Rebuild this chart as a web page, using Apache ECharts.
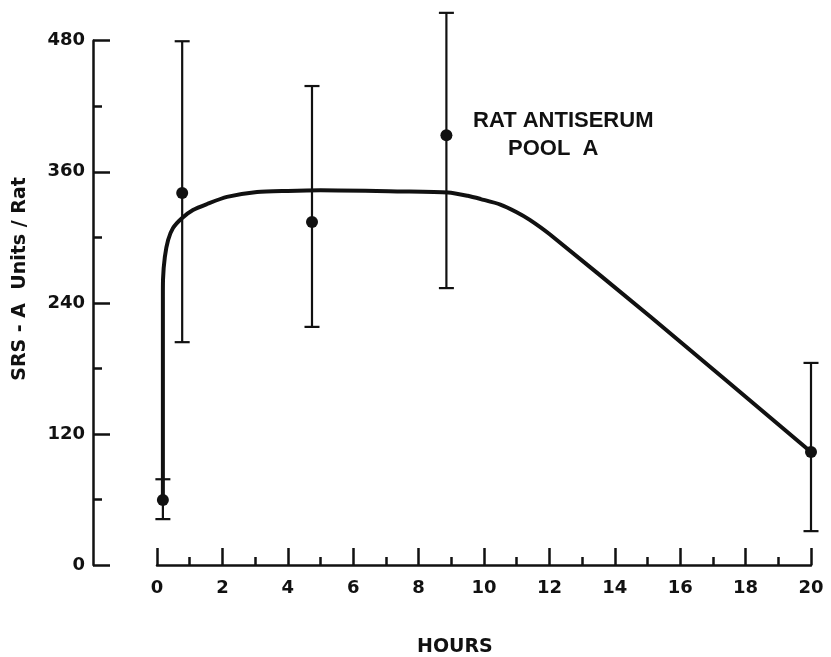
<!DOCTYPE html>
<html>
<head>
<meta charset="utf-8">
<title>SRS-A Units / Rat</title>
<script src="https://cdn.jsdelivr.net/npm/echarts@6/dist/echarts.min.js"></script>
<style>
    html, body { margin: 0; padding: 0; background: #fff; }
    #chart { width: 831px; height: 657px; }
</style>
</head>
<body>
<div id="chart"></div>
<script>
    // measured points (hours, mean, error bar ends)
    let hours = [0.18, 0.77, 4.74, 8.85, 20];
    let means = [59.5, 340.5, 314, 393.5, 103.5];
    let lows = [42, 204, 218, 253.5, 31];
    let highs = [78.5, 479.5, 438.5, 505.5, 185];

    // hand drawn curve
    let curveX = [0.18, 0.18, 0.185, 0.24, 0.34, 0.49, 0.76, 1.1, 1.53, 2.14, 3.06, 4.0, 5.0, 7.4, 8.9, 9.5, 9.9, 10.5, 11.0, 11.4, 12.0, 15.1, 20];
    let curveY = [59.5, 245, 262, 282, 297.5, 308.5, 317.5, 325, 330.5, 337, 341.5, 342.5, 343, 342, 341, 338, 335, 330, 323, 316, 303, 227, 103.5];

    let yTicks = [0, 120, 240, 360, 480];
    let xTicks = [0, 2, 4, 6, 8, 10, 12, 14, 16, 18, 20];

    let ink = '#111';
    let font = 'DejaVu Sans';

    let chart = echarts.init(document.getElementById('chart'));

    let curveData = curveX.map(function (x, i) { return [x, curveY[i]]; });
    let pointData = hours.map(function (x, i) { return [x, means[i]]; });
    let barData = hours.map(function (x, i) { return [x, lows[i], highs[i]]; });

    // error bar with caps
    function renderBar(params, api) {
        let x = api.value(0);
        let top = api.coord([x, api.value(2)]);
        let bot = api.coord([x, api.value(1)]);
        let w = 7.5;
        let st = { stroke: ink, lineWidth: 2.2 };
        return {
            type: 'group',
            children: [
                { type: 'line', shape: { x1: top[0], y1: top[1], x2: bot[0], y2: bot[1] }, style: st },
                { type: 'line', shape: { x1: top[0] - w, y1: top[1], x2: top[0] + w, y2: top[1] }, style: st },
                { type: 'line', shape: { x1: bot[0] - w, y1: bot[1], x2: bot[0] + w, y2: bot[1] }, style: st }
            ]
        };
    }

    let option = {
        backgroundColor: '#fff',
        animation: false,
        grid: { left: 157, right: 20, top: 40.7, bottom: 92 },
        xAxis: {
            type: 'value',
            min: 0,
            max: 20,
            interval: 2,
            splitLine: { show: false },
            axisLine: { show: true, onZero: false, lineStyle: { color: ink, width: 2.5 } },
            axisTick: { show: true, inside: true, length: 17, lineStyle: { color: ink, width: 2.5 } },
            minorTick: { show: true, splitNumber: 2, length: 8, lineStyle: { color: ink, width: 2.5 } },
            axisLabel: {
                margin: 14,
                color: ink,
                fontFamily: font,
                fontWeight: 'bold',
                fontSize: 18,
                formatter: function (v) { return xTicks.indexOf(v) >= 0 ? String(v) : ''; }
            }
        },
        yAxis: {
            type: 'value',
            min: 0,
            max: 480,
            interval: 120,
            offset: 64,
            splitLine: { show: false },
            axisLine: { show: true, onZero: false, lineStyle: { color: ink, width: 2.5 } },
            axisTick: { show: true, inside: true, length: 17, lineStyle: { color: ink, width: 2.5 } },
            minorTick: { show: true, splitNumber: 2, length: 9, lineStyle: { color: ink, width: 2.5 } },
            axisLabel: {
                margin: 8,
                color: ink,
                fontFamily: font,
                fontWeight: 'bold',
                fontSize: 18,
                formatter: function (v) { return yTicks.indexOf(v) >= 0 ? String(v) : ''; }
            }
        },
        graphic: [
            {
                type: 'text', left: 473, top: 110,
                style: { text: 'RAT ANTISERUM', fill: ink, font: 'bold 22px "Liberation Sans"' }
            },
            {
                type: 'text', left: 508, top: 138,
                style: { text: 'POOL  A', fill: ink, font: 'bold 22px "Liberation Sans"' }
            },
            {
                type: 'text', left: 417, top: 638,
                style: { text: 'HOURS', fill: ink, font: 'bold 19px "DejaVu Sans"' }
            },
            {
                type: 'text', x: 20, y: 279, rotation: Math.PI / 2,
                style: { text: 'SRS - A  Units / Rat', fill: ink, font: 'bold 19px "DejaVu Sans"', align: 'center', verticalAlign: 'middle' }
            }
        ],
        series: [
            {
                type: 'line',
                data: curveData,
                showSymbol: false,
                smooth: 0.25,
                lineStyle: { color: ink, width: 4 },
                z: 2
            },
            {
                type: 'custom',
                data: barData,
                renderItem: renderBar,
                clip: false,
                z: 3
            },
            {
                type: 'scatter',
                data: pointData,
                symbol: 'circle',
                symbolSize: 12,
                itemStyle: { color: ink, opacity: 1 },
                z: 4
            }
        ]
    };

    chart.setOption(option);
</script>
</body>
</html>
